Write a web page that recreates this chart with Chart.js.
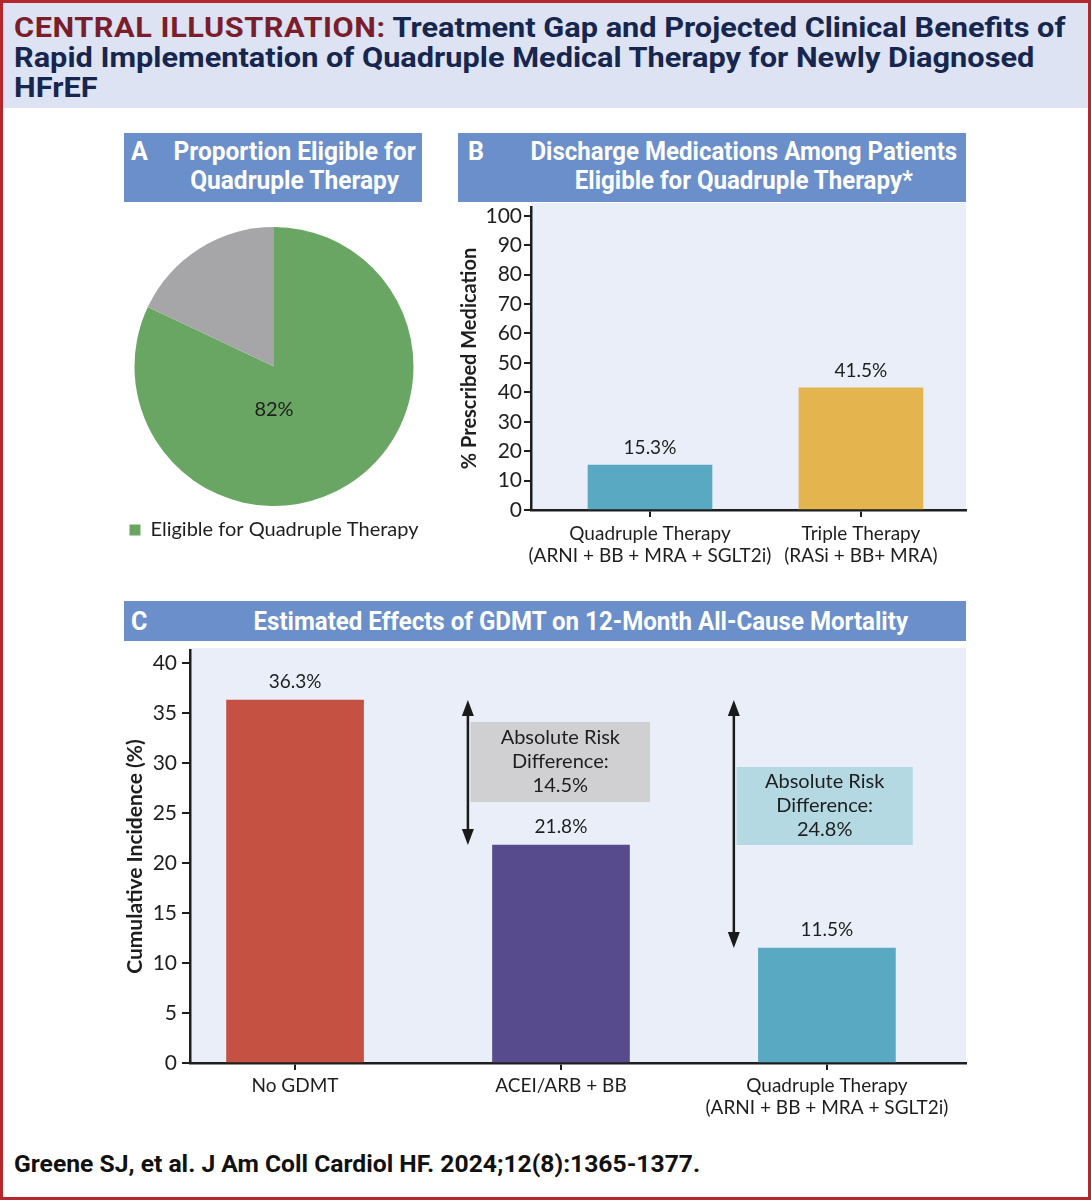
<!DOCTYPE html>
<html>
<head>
<meta charset="utf-8">
<script src="https://cdn.jsdelivr.net/npm/chart.js@4.4.1/dist/chart.umd.min.js"></script>
<style>
  html, body { margin: 0; padding: 0; background: #fff; }
  #page { position: relative; width: 1091px; height: 1200px; box-sizing: border-box; border: 3px solid #b3272d; background: #fff; overflow: hidden; }
  .abs { position: absolute; }
  .hd { font-family: Roboto, "Liberation Sans", sans-serif; font-weight: 700; white-space: nowrap; }
  #header { left: 0; top: 0; width: 1085px; height: 105px; background: #dde3f2; }
  #headtext { left: 11px; top: 10px; font-size: 28px; line-height: 30px; color: #16264e; transform-origin: 0 0; }
  #headtext .red { color: #7b1e2c; letter-spacing: 0.5px; }
  .tbox { background: #6b8fcb; }
  .tletter { font-size: 25px; line-height: 29px; color: #fff; }
  .ttext { font-size: 25px; line-height: 29px; color: #fff; text-align: center; transform-origin: 50% 50%; }
  #footer { left: 11px; top: 1149px; font-size: 23px; line-height: 26px; color: #111; transform-origin: 0 50%; }
  canvas { position: absolute; }
</style>
</head>
<body>
<div id="page">
  <div id="header" class="abs"></div>
  <div id="headtext" class="abs hd" data-w="1051"><span class="red">CENTRAL ILLUSTRATION:</span> Treatment Gap and Projected Clinical Benefits of<br>Rapid Implementation of Quadruple Medical Therapy for Newly Diagnosed<br>HFrEF</div>

  <div class="abs tbox" style="left:121px; top:130px; width:298px; height:69px;"></div>
  <div class="abs hd tletter" style="left:128px; top:134px;">A</div>
  <div class="abs hd ttext" data-w="242" data-c="291" style="top:134px;">Proportion Eligible for<br>Quadruple Therapy</div>

  <div class="abs tbox" style="left:455px; top:130px; width:508px; height:69px;"></div>
  <div class="abs hd tletter" style="left:465px; top:134px;">B</div>
  <div class="abs hd ttext" data-w="427" data-c="741" style="top:134px;">Discharge Medications Among Patients<br>Eligible for Quadruple Therapy*</div>

  <div class="abs tbox" style="left:121px; top:598px; width:842px; height:40px;"></div>
  <div class="abs hd tletter" style="left:128px; top:604px;">C</div>
  <div class="abs hd ttext" data-w="655" data-c="578" style="top:604px;">Estimated Effects of GDMT on 12-Month All-Cause Mortality</div>

  <canvas id="pie" style="left:121px; top:212px;" width="300" height="335"></canvas>
  <canvas id="barB" style="left:437px; top:197px;" width="540" height="380"></canvas>
  <canvas id="barC" style="left:107px; top:642px;" width="870" height="478"></canvas>

  <div id="footer" class="abs hd" data-w="686">Greene SJ, et al. J Am Coll Cardiol HF. 2024;12(8):1365-1377.</div>
</div>
<script>
// ---------- DATA ----------
const pieLabels = ['Eligible for Quadruple Therapy', 'Not Eligible'];
const pieValues = [82, 18];
const pieColors = ['#6aa663', '#a6a6a8'];

const bLabels = [['Quadruple Therapy', '(ARNI + BB + MRA + SGLT2i)'], ['Triple Therapy', '(RASi + BB+ MRA)']];
const bValues = [15.3, 41.5];
const bColors = ['#58a9c1', '#e4b54f'];

const cLabels = ['No GDMT', 'ACEI/ARB + BB', ['Quadruple Therapy', '(ARNI + BB + MRA + SGLT2i)']];
const cValues = [36.3, 21.8, 11.5];
const cColors = ['#c45141', '#574b8e', '#58a9c1'];
const cRiskDiff = [14.5, 24.8];
const cRiskBoxColors = ['#d0d0d2', '#b4d9e3'];

// ---------- heading text fitting ----------
document.querySelectorAll('[data-w]').forEach(el => {
  const w = el.offsetWidth;
  const s = parseFloat(el.dataset.w) / w;
  if (el.dataset.c) {
    el.style.left = (parseFloat(el.dataset.c) - w / 2) + 'px';
    el.style.transform = 'scaleX(' + s + ')';
  } else {
    el.style.transform = 'scaleX(' + s + ')';
  }
});

// ---------- SETUP ----------
const FONT = 'Lato, "Noto Sans", sans-serif';
Chart.defaults.font.family = FONT;
Chart.defaults.color = '#1e1e1e';
Chart.defaults.animation = false;

const plotBg = {
  id: 'plotBg',
  beforeDraw(chart, args, opts) {
    if (!opts || !opts.color) return;
    const a = chart.chartArea, ctx = chart.ctx;
    ctx.save();
    ctx.fillStyle = opts.color;
    ctx.fillRect(a.left, a.top - (opts.extendTop || 0), a.right - a.left, a.bottom - a.top + (opts.extendTop || 0));
    ctx.restore();
  }
};

const valueLabels = {
  id: 'valueLabels',
  afterDatasetsDraw(chart, args, opts) {
    if (!opts || !opts.show) return;
    const ctx = chart.ctx;
    const meta = chart.getDatasetMeta(0);
    const data = chart.data.datasets[0].data;
    ctx.save();
    ctx.font = (opts.size || 19) + 'px ' + FONT;
    ctx.fillStyle = '#1e1e1e';
    ctx.textAlign = 'center';
    ctx.textBaseline = 'middle';
    meta.data.forEach((el, i) => {
      ctx.fillText(data[i].y.toFixed(1) + '%', el.x, el.y - (opts.gap || 17));
    });
    ctx.restore();
  }
};

const pieLabel = {
  id: 'pieLabel',
  afterDatasetsDraw(chart) {
    if (chart.config.type !== 'pie') return;
    const arc = chart.getDatasetMeta(0).data[0];
    const ctx = chart.ctx;
    ctx.save();
    ctx.font = '20px ' + FONT;
    ctx.fillStyle = '#1e1e1e';
    ctx.textAlign = 'center';
    ctx.textBaseline = 'middle';
    ctx.fillText(pieValues[0] + '%', arc.x, arc.y + arc.outerRadius * 0.31);
    ctx.restore();
  }
};

const riskArrows = {
  id: 'riskArrows',
  afterDatasetsDraw(chart, args, opts) {
    if (!opts || !opts.items) return;
    const xs = chart.scales.x, ys = chart.scales.y, ctx = chart.ctx;
    opts.items.forEach(it => {
      const bx0 = xs.getPixelForValue(it.boxX0), bx1 = xs.getPixelForValue(it.boxX1);
      const by0 = ys.getPixelForValue(it.boxTop), by1 = ys.getPixelForValue(it.boxBottom);
      ctx.save();
      ctx.fillStyle = it.color;
      ctx.fillRect(bx0, by0, bx1 - bx0, by1 - by0);
      ctx.font = '20px ' + FONT;
      ctx.fillStyle = '#1e1e1e';
      ctx.textAlign = 'center';
      ctx.textBaseline = 'middle';
      const cx = (bx0 + bx1) / 2, cy = (by0 + by1) / 2;
      it.lines.forEach((ln, k) => ctx.fillText(ln, cx, cy + (k - (it.lines.length - 1) / 2) * 24));
      const ax = xs.getPixelForValue(it.x);
      const ay0 = ys.getPixelForValue(it.from), ay1 = ys.getPixelForValue(it.to);
      const hh = 16, hw = 6;
      ctx.strokeStyle = '#1a1a1a';
      ctx.fillStyle = '#1a1a1a';
      ctx.lineWidth = 2.5;
      ctx.beginPath();
      ctx.moveTo(ax, ay0 + hh - 2);
      ctx.lineTo(ax, ay1 - hh + 2);
      ctx.stroke();
      ctx.beginPath();
      ctx.moveTo(ax, ay0); ctx.lineTo(ax - hw, ay0 + hh); ctx.lineTo(ax + hw, ay0 + hh); ctx.closePath(); ctx.fill();
      ctx.beginPath();
      ctx.moveTo(ax, ay1); ctx.lineTo(ax - hw, ay1 - hh); ctx.lineTo(ax + hw, ay1 - hh); ctx.closePath(); ctx.fill();
      ctx.restore();
    });
  }
};

Chart.register(plotBg, valueLabels, pieLabel, riskArrows);

// ---------- PIE (A) ----------
new Chart(document.getElementById('pie'), {
  type: 'pie',
  data: {
    labels: pieLabels,
    datasets: [{ data: pieValues, backgroundColor: pieColors, borderWidth: 0, hoverOffset: 0 }]
  },
  options: {
    responsive: false,
    layout: { padding: { top: 12, bottom: 0 } },
    plugins: {
      tooltip: { enabled: false },
      legend: {
        position: 'bottom',
        labels: {
          filter: (item) => item.index === 0,
          boxWidth: 11, boxHeight: 11, padding: 14,
          font: { size: 20 }, color: '#1e1e1e'
        }
      }
    }
  }
});

// ---------- shared axis builders ----------
function xAxis(min, max, labels, h, pad) {
  return {
    type: 'linear', min: min, max: max, offset: false,
    afterBuildTicks: (s) => { s.ticks = labels.map((_, i) => ({ value: i })); },
    afterFit: (s) => { s.height = h; s.paddingLeft = 0; s.paddingRight = 0; },
    grid: { offset: false, drawOnChartArea: false, drawTicks: true, tickLength: 7, color: '#1e1e1e', lineWidth: 2 },
    border: { display: true, color: '#1e1e1e', width: 2.5 },
    ticks: { callback: (v) => labels[v], font: { size: 19 }, color: '#1e1e1e', padding: pad, maxRotation: 0, autoSkip: false }
  };
}
function yAxis(max, step, w, title, titleSize, titlePad, tickLen, tickPad) {
  return {
    min: 0, max: max,
    afterFit: (s) => { s.width = w; s.paddingTop = 0; s.paddingBottom = 0; },
    grid: { drawOnChartArea: false, drawTicks: true, tickLength: tickLen, color: '#1e1e1e', lineWidth: 2 },
    border: { display: true, color: '#1e1e1e', width: 2.5 },
    ticks: { stepSize: step, includeBounds: false, font: { size: 21 }, color: '#1e1e1e', padding: tickPad },
    title: { display: true, text: title, font: { size: titleSize, weight: 'bold' }, color: '#1e1e1e', padding: { top: titlePad, bottom: 0 } }
  };
}

// ---------- BAR (B) ----------
new Chart(document.getElementById('barB'), {
  type: 'bar',
  data: {
    datasets: [{ data: bValues.map((v, i) => ({ x: i, y: v })), backgroundColor: bColors, barThickness: 124 }]
  },
  options: {
    responsive: false,
    layout: { padding: { top: 7, right: 14, left: 0, bottom: 0 } },
    scales: {
      x: xAxis(-0.564, 1.498, bLabels, 70, 5),
      y: yAxis(103, 10, 91, '% Prescribed Medication', 20, 18, 7, 2)
    },
    plugins: {
      legend: { display: false }, tooltip: { enabled: false },
      plotBg: { color: '#e9eef8', extendTop: 4 },
      valueLabels: { show: true, size: 19, gap: 17 }
    }
  }
});

// ---------- BAR (C) ----------
new Chart(document.getElementById('barC'), {
  type: 'bar',
  data: {
    datasets: [{ data: cValues.map((v, i) => ({ x: i, y: v })), backgroundColor: cColors, barThickness: 137 }]
  },
  options: {
    responsive: false,
    layout: { padding: { top: 5, right: 14, left: 0, bottom: 0 } },
    scales: {
      x: xAxis(-0.395, 2.523, cLabels, 60, 4),
      y: yAxis(41.3, 5, 80, 'Cumulative Incidence (%)', 21, 13, 8, 5)
    },
    plugins: {
      legend: { display: false }, tooltip: { enabled: false },
      plotBg: { color: '#e9eef8', extendTop: 2 },
      valueLabels: { show: true, size: 19, gap: 18 },
      riskArrows: {
        items: cRiskDiff.map((d, i) => ({
          x: 0.65 + i,
          from: cValues[0],
          to: cValues[i + 1],
          boxX0: 0.66 + i,
          boxX1: i === 0 ? 1.335 : 2.323,
          boxTop: i === 0 ? 34.1 : 29.6,
          boxBottom: i === 0 ? 26.1 : 21.8,
          color: cRiskBoxColors[i],
          lines: ['Absolute Risk', 'Difference:', d.toFixed(1) + '%']
        }))
      }
    }
  }
});
</script>
</body>
</html>
